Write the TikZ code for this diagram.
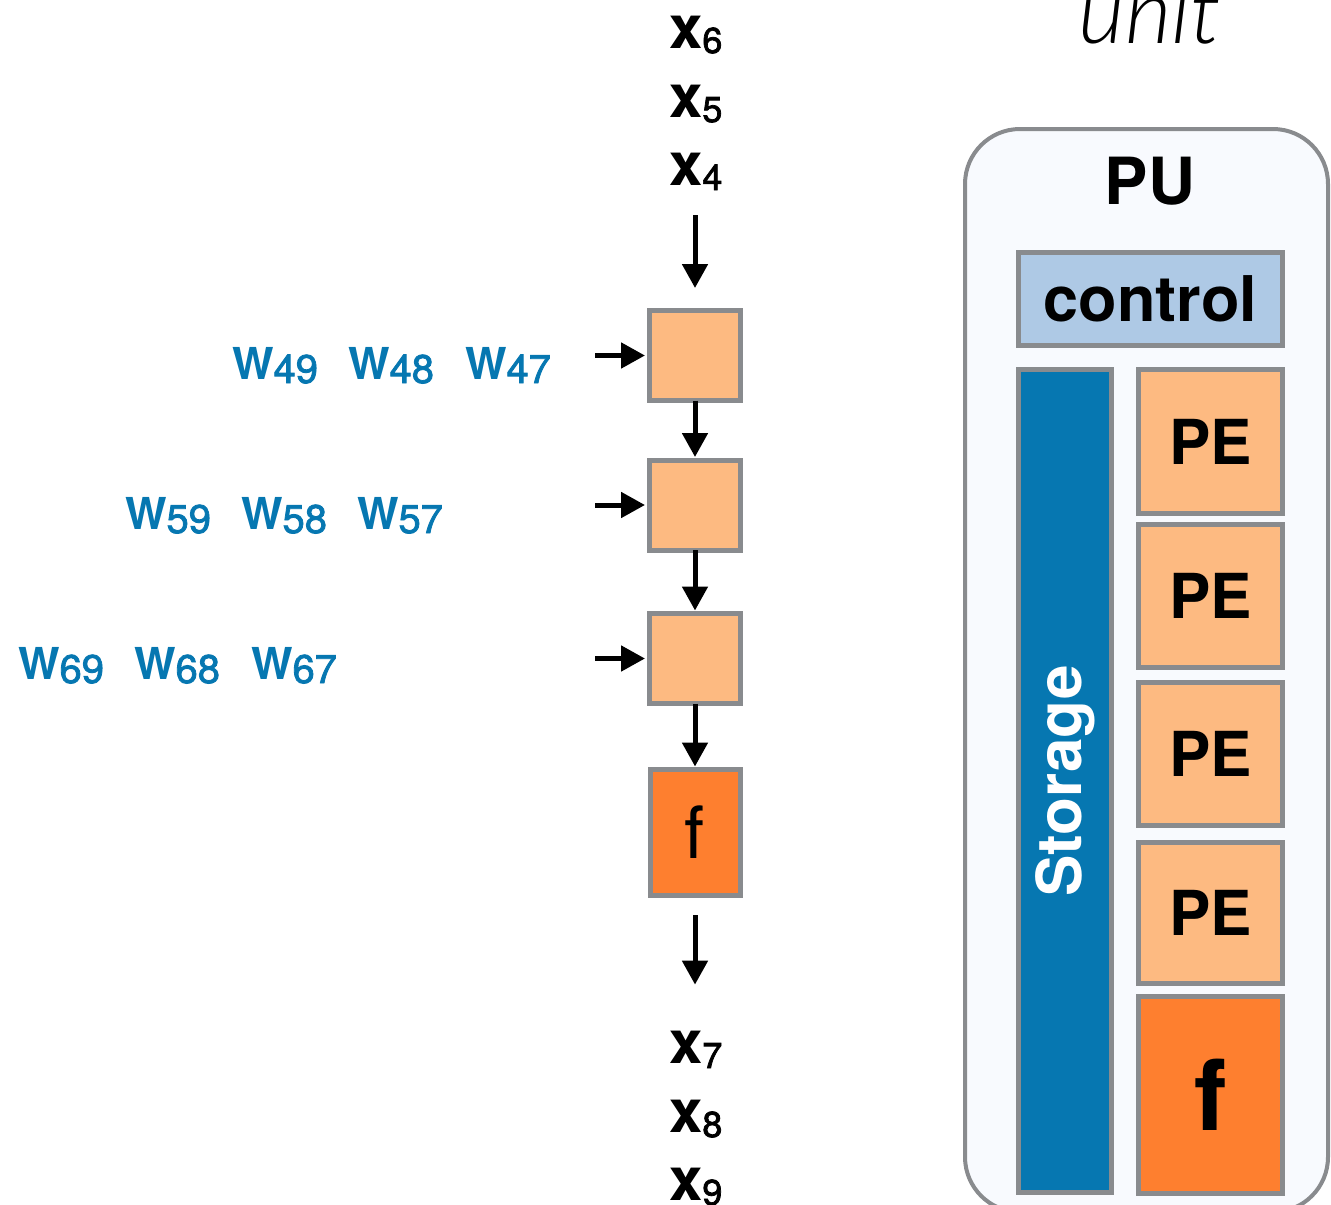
\documentclass[tikz,border=0pt]{standalone}
\usepackage{fontspec}
\setmainfont{TeX Gyre Heros}
\newfontfamily\unitfont{Lato Light Italic}
\newfontfamily\idxfont[FakeBold=2]{TeX Gyre Heros}
\usetikzlibrary{arrows.meta}

\definecolor{peach}{HTML}{FDBA81}
\definecolor{fcolor}{HTML}{FE7F2F}
\definecolor{storeblue}{HTML}{0677B1}
\definecolor{ctrlblue}{HTML}{AEC9E5}
\definecolor{edgegray}{HTML}{898B8E}
\definecolor{pubg}{HTML}{F8FAFE}

% x_i labels: bold x with a lowered index
\newcommand\xlab[1]{{\fontsize{60}{60}\selectfont\bfseries x}\raisebox{-5pt}{\fontsize{36}{36}\selectfont\idxfont #1}}
% weight labels: bold W with a lowered index
\newcommand\wlab[1]{{\fontsize{44}{44}\selectfont\bfseries W}\raisebox{-4pt}{\fontsize{40}{40}\selectfont\idxfont #1}}

\tikzset{
  txt/.style={inner sep=0pt, outer sep=0pt},
  xtxt/.style={txt, anchor=base west},
  wtxt/.style={txt, anchor=base west, text=storeblue},
  cell/.style={draw=edgegray, line width=5pt, inner sep=0pt, outer sep=0pt},
  macbox/.style={cell, fill=peach, minimum width=91pt, minimum height=90pt},
  actbox/.style={cell, fill=fcolor, minimum width=90pt, minimum height=126pt},
  pebox/.style={cell, fill=peach, minimum width=144pt, font=\fontsize{62}{62}\selectfont\bfseries},
  arr/.style={line width=5pt, -{Triangle[width=25pt,length=24pt]}},
}

\begin{document}
\begin{tikzpicture}[x=1pt, y=-1pt]
\useasboundingbox (0,0) rectangle (1331,1205);

% ---- input stream ----
\node[xtxt] (x6) at (669,48)  {\xlab{6}};
\node[xtxt] (x5) at (669,117) {\xlab{5}};
\node[xtxt] (x4) at (669,185) {\xlab{4}};

% ---- chain of processing cells ----
\node[macbox] (b1) at (695,355.5) {};
\node[macbox] (b2) at (695,505)   {};
\node[macbox] (b3) at (695,658.5) {};
\node[actbox] (fc) at (695,832.5) {\fontsize{72}{72}\selectfont f};

% ---- output stream ----
\node[xtxt] (x7) at (669,1063) {\xlab{7}};
\node[xtxt] (x8) at (669,1132) {\xlab{8}};
\node[xtxt] (x9) at (669,1200) {\xlab{9}};

% ---- weights fed into each cell ----
\node[wtxt] (w49) at (232,379) {\wlab{49}};
\node[wtxt] (w48) at (348,379) {\wlab{48}};
\node[wtxt] (w47) at (465,379) {\wlab{47}};
\node[wtxt] (w59) at (125,529) {\wlab{59}};
\node[wtxt] (w58) at (241,529) {\wlab{58}};
\node[wtxt] (w57) at (357,529) {\wlab{57}};
\node[wtxt] (w69) at (18,679)  {\wlab{69}};
\node[wtxt] (w68) at (134,679) {\wlab{68}};
\node[wtxt] (w67) at (251,679) {\wlab{67}};

\coordinate (in1) at (595,355.5);
\coordinate (in2) at (595,505);
\coordinate (in3) at (595,658.5);

% ---- connectors ----
\draw[arr, shorten <=25pt, shorten >=22.5pt] (x4.south -| b1.north) -- (b1.north);
\draw[arr, shorten >=3pt] (b1) -- (b2);
\draw[arr, shorten >=3pt] (b2) -- (b3);
\draw[arr, shorten >=3pt] (b3) -- (fc);
\draw[arr, shorten <=19.5pt, shorten >=46pt] (fc.south) -- (x7.north -| fc.south);
\draw[arr, shorten >=4.5pt] (in1) -- (b1.west);
\draw[arr, shorten >=4.5pt] (in2) -- (b2.west);
\draw[arr, shorten >=4.5pt] (in3) -- (b3.west);

% ---- processing unit ----
\node[txt, anchor=base] (unit) at (1150,43) {\fontsize{90}{90}\selectfont\unitfont unit};
\node[draw=edgegray, fill=pubg, line width=4pt, rounded corners=55pt,
      minimum width=363pt, minimum height=1083pt, inner sep=0pt] (pu) at (1146.5,670.5) {};
\node[txt, anchor=base] (pulab) at (1150,204) {\fontsize{65}{65}\selectfont\bfseries PU};
\node[cell, fill=ctrlblue, minimum width=264pt, minimum height=93pt,
      font=\fontsize{63}{63}\selectfont\bfseries] (ctrl) at (1150.5,299) {control};
\node[cell, fill=storeblue, minimum width=93pt, minimum height=823pt] (store) at (1065,781) {};
\node[txt, rotate=90, text=white, font=\fontsize{62}{62}\selectfont\bfseries] (storelab) at (store.center) {Storage};
\node[pebox, minimum height=144pt] (pe1) at (1210.5,441.5) {PE};
\node[pebox, minimum height=143pt] (pe2) at (1210.5,596)   {PE};
\node[pebox, minimum height=143pt] (pe3) at (1210.5,754)   {PE};
\node[pebox, minimum height=141pt] (pe4) at (1210.5,913)   {PE};
\node[cell, fill=fcolor, minimum width=144pt, minimum height=197pt,
      font=\fontsize{98}{98}\selectfont\bfseries] (pef) at (1210.5,1095) {f};
\end{tikzpicture}
\end{document}
